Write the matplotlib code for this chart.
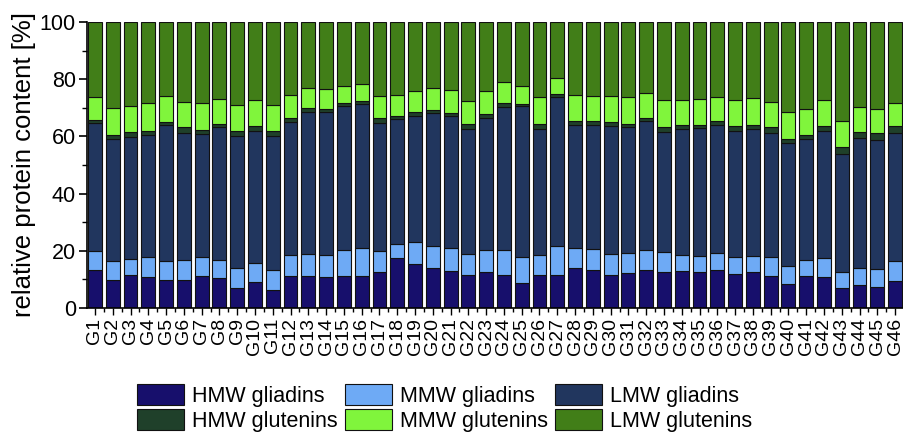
import matplotlib.pyplot as plt
import numpy as np
from matplotlib.ticker import MultipleLocator

plt.rcParams['font.family'] = ['Liberation Sans', 'DejaVu Sans']

labels = [f"G{i}" for i in range(1, 47)]

hmw_gliadins = [13.4, 9.9, 11.4, 10.8, 9.9, 9.7, 11.1, 10.4, 6.9, 9.0,
                6.2, 11.1, 11.3, 10.8, 11.3, 11.1, 12.6, 17.4, 15.4, 13.9,
                13.1, 11.7, 12.6, 11.7, 8.6, 11.5, 11.7, 13.9, 13.2, 11.7,
                12.2, 13.4, 12.5, 12.8, 12.5, 13.3, 12.0, 12.5, 11.1, 8.5,
                11.3, 10.8, 7.1, 7.9, 7.2, 9.3]
mmw_gliadins = [6.4, 6.6, 5.7, 7.1, 6.4, 7.1, 6.8, 6.3, 7.1, 6.6,
                7.1, 7.4, 7.5, 7.6, 8.9, 9.8, 7.2, 5.0, 7.6, 7.7,
                7.9, 7.3, 7.8, 8.7, 9.1, 7.0, 9.9, 7.1, 7.3, 7.3,
                7.0, 6.8, 7.1, 5.6, 5.6, 5.9, 5.7, 5.6, 6.6, 6.1,
                5.4, 6.7, 5.5, 6.1, 6.6, 7.3]
lmw_gliadins = [44.9, 42.6, 42.7, 42.7, 47.6, 44.4, 42.8, 46.6, 46.0, 46.4,
                46.7, 46.4, 49.6, 50.0, 50.3, 50.4, 44.9, 43.7, 44.0, 46.6,
                46.2, 43.6, 46.0, 49.9, 53.0, 44.2, 52.2, 43.0, 43.5, 44.5,
                44.0, 45.3, 41.9, 44.2, 44.8, 44.9, 44.3, 44.5, 43.6, 43.1,
                42.4, 44.5, 41.2, 45.4, 45.1, 44.7]
hmw_glutenins = [0.9, 1.5, 1.6, 1.4, 1.3, 2.0, 1.7, 1.2, 2.0, 1.5,
                 2.0, 1.7, 1.5, 1.3, 1.2, 1.2, 1.7, 1.1, 1.4, 1.1,
                 1.0, 1.9, 1.4, 1.4, 0.6, 1.8, 1.0, 1.5, 1.3, 1.4,
                 1.3, 0.9, 1.7, 1.4, 1.2, 1.2, 1.5, 1.5, 1.9, 1.4,
                 1.5, 1.5, 2.4, 2.1, 2.3, 2.2]
mmw_glutenins = [8.2, 9.3, 9.1, 9.6, 8.8, 8.9, 9.2, 8.7, 9.1, 9.3,
                 9.1, 8.0, 7.1, 6.9, 6.0, 5.9, 7.8, 7.4, 7.4, 7.5,
                 7.9, 8.0, 8.0, 7.2, 6.4, 9.2, 5.6, 8.9, 8.7, 9.1,
                 9.2, 8.8, 9.4, 8.6, 9.0, 8.4, 9.1, 9.2, 8.9, 9.4,
                 9.0, 9.1, 9.3, 8.8, 8.5, 8.2]

series = [
    ("HMW gliadins", hmw_gliadins, "#170f6c"),
    ("MMW gliadins", mmw_gliadins, "#6eaaf5"),
    ("LMW gliadins", lmw_gliadins, "#21365e"),
    ("HMW glutenins", hmw_glutenins, "#1f402a"),
    ("MMW glutenins", mmw_glutenins, "#80f53c"),
]
# remainder to 100 % is the LMW glutenin fraction
lmw_glutenins = 100 - np.sum([s[1] for s in series], axis=0)
series.append(("LMW glutenins", lmw_glutenins, "#417e18"))

fig = plt.figure(figsize=(9.04, 4.33), dpi=100)
ax = fig.add_axes([0.0962, 0.2887, 0.9038, 0.6605])

x = np.arange(len(labels))
bottom = np.zeros(len(labels))
handles = []
for name, vals, col in series:
    vals = np.asarray(vals)
    b = ax.bar(x, vals, bottom=bottom, width=0.78, color=col, edgecolor="#111111",
               linewidth=0.8, label=name)
    handles.append(b)
    bottom += vals

ax.set_xlim(-0.45, 45.4)
ax.set_ylim(0, 100)
ax.set_xticks(x)
ax.set_xticklabels(labels, rotation=90, fontsize=14)
ax.set_xticks(x + 0.5, minor=True)
ax.yaxis.set_major_locator(MultipleLocator(20))
ax.yaxis.set_minor_locator(MultipleLocator(10))
ax.tick_params(axis="y", labelsize=15.5, length=6, width=1.2, pad=2)
ax.tick_params(axis="y", which="minor", length=3.5, width=1.0)
ax.tick_params(axis="x", which="major", length=5, width=1.0, pad=2)
ax.tick_params(axis="x", which="minor", length=3, width=1.0)
ax.set_ylabel("relative protein content [%]", fontsize=18.5, labelpad=3)
for s in ["top", "right"]:
    ax.spines[s].set_visible(False)
ax.spines["left"].set_linewidth(1.2)
ax.spines["bottom"].set_linewidth(1.2)

# legend rows: gliadins on top, glutenins below (matplotlib fills by column)
order = [0, 3, 1, 4, 2, 5]
fig.legend([handles[i] for i in order], [series[i][0] for i in order],
           loc="lower left", bbox_to_anchor=(0.1504, 0.0), ncol=3, frameon=False,
           fontsize=15.5, handlelength=2.19, handleheight=1.12, columnspacing=0.33,
           handletextpad=0.37, labelspacing=0.1, borderpad=0.05, borderaxespad=0)

fig.savefig("out.png", dpi=100)
